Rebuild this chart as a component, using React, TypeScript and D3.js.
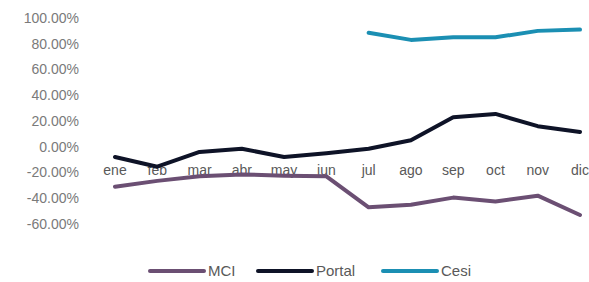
import { useEffect, useRef } from "react";
import * as d3 from "d3";

const months = ["ene", "feb", "mar", "abr", "may", "jun", "jul", "ago", "sep", "oct", "nov", "dic"];
const mciValues = [-31, -26.5, -23, -21.5, -22.5, -23, -47, -45, -39.5, -42.5, -38, -53];
const portalValues = [-8, -15.5, -4, -1.5, -8, -5, -1.5, 5, 23, 25.5, 16, 11.5];
const cesiValues = [null, null, null, null, null, null, 88.5, 83, 85, 85, 90, 91];
const yTicks = [100, 80, 60, 40, 20, 0, -20, -40, -60];

const series = [
  { name: "MCI", values: mciValues, color: "#6b4f73" },
  { name: "Portal", values: portalValues, color: "#0e1327" },
  { name: "Cesi", values: cesiValues, color: "#1b8fb3" },
];

export default function App() {
  const ref = useRef(null);

  useEffect(() => {
    const width = 589;
    const height = 282;
    const svg = d3.select(ref.current);
    svg.selectAll("*").remove();
    svg.attr("width", width).attr("height", height);

    const x = d3.scalePoint().domain(months).range([115, 580]);
    const y = d3.scaleLinear().domain([-60, 100]).range([224, 18]);

    // y labels
    svg.append("g")
      .selectAll("text")
      .data(yTicks)
      .enter()
      .append("text")
      .attr("x", 79)
      .attr("y", d => y(d))
      .attr("dy", "0.35em")
      .attr("text-anchor", "end")
      .style("font-family", "Liberation Sans, Arial, sans-serif")
      .style("font-size", "14px")
      .style("fill", "#7a7a7a")
      .text(d => d.toFixed(2) + "%");

    // category labels next to the zero line
    svg.append("g")
      .selectAll("text")
      .data(months)
      .enter()
      .append("text")
      .attr("x", d => x(d))
      .attr("y", y(0) + 28)
      .attr("text-anchor", "middle")
      .style("font-family", "Liberation Sans, Arial, sans-serif")
      .style("font-size", "14px")
      .style("fill", "#595959")
      .text(d => d);

    const line = d3
      .line()
      .defined(d => d.v !== null)
      .x(d => x(d.m))
      .y(d => y(d.v));

    series.forEach(s => {
      const pts = months.map((m, i) => ({ m, v: s.values[i] }));
      svg.append("path")
        .datum(pts)
        .attr("d", line)
        .attr("fill", "none")
        .attr("stroke", s.color)
        .attr("stroke-width", 4)
        .attr("stroke-linejoin", "round")
        .attr("stroke-linecap", "round");
    });

    // legend
    const legendX = [150, 258, 383];
    const legend = svg.append("g");
    series.forEach((s, i) => {
      const lx = legendX[i];
      legend.append("line")
        .attr("x1", lx)
        .attr("x2", lx + 54)
        .attr("y1", 271)
        .attr("y2", 271)
        .attr("stroke", s.color)
        .attr("stroke-width", 4)
        .attr("stroke-linecap", "round");
      legend.append("text")
        .attr("x", lx + 58)
        .attr("y", 271)
        .attr("dy", "0.35em")
        .style("font-family", "Liberation Sans, Arial, sans-serif")
        .style("font-size", "15px")
        .style("fill", "#595959")
        .text(s.name);
    });
  }, []);

  return (
    <div style={{ position: "absolute", left: 0, top: 0, background: "#fff" }}>
      <svg ref={ref}></svg>
    </div>
  );
}
